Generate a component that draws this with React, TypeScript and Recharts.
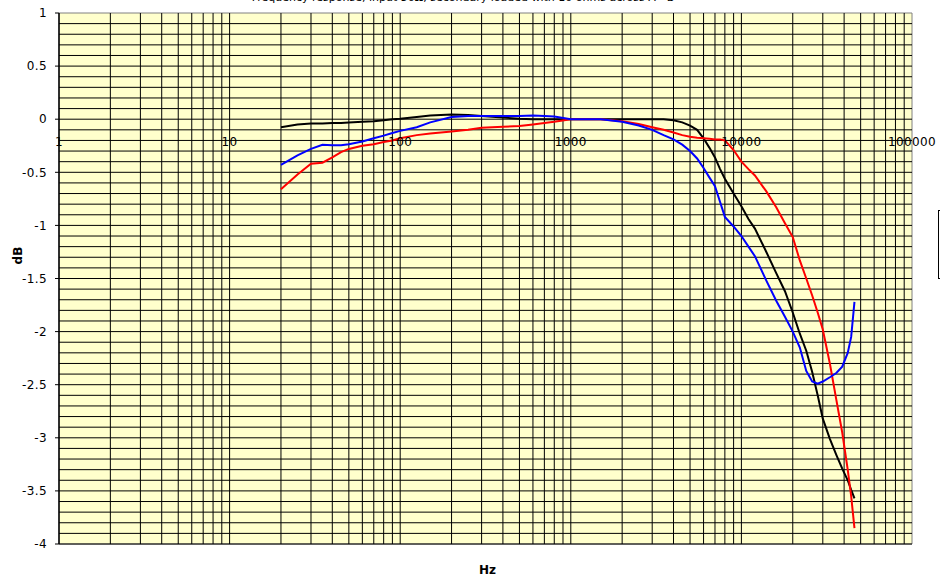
import { LineChart, Line, XAxis, YAxis, ReferenceArea, ReferenceLine, ReferenceDot } from 'recharts';

const freq = [20, 25, 30, 35, 40, 45, 50, 60, 70, 80, 90, 100, 125, 150, 200, 250, 300, 400, 500, 600, 700, 800, 1000, 1500, 2000, 2500, 3000, 3500, 4000, 4500, 5000, 5500, 6000, 6500, 7000, 7500, 8000, 9000, 10000, 11000, 12000, 14000, 16000, 18000, 20000, 22000, 24000, 26000, 28000, 30000, 33000, 36000, 39000, 42000, 44000, 46000];

const blackDb = [-0.075, -0.05, -0.04, -0.04, -0.035, -0.035, -0.03, -0.025, -0.02, -0.01, 0, 0.005, 0.02, 0.035, 0.045, 0.04, 0.03, 0.015, 0.005, 0, 0, 0, 0, 0, 0, 0, 0, 0, -0.01, -0.03, -0.06, -0.1, -0.18, -0.27, -0.36, -0.47, -0.56, -0.7, -0.82, -0.94, -1.03, -1.25, -1.45, -1.62, -1.82, -2.02, -2.18, -2.38, -2.6, -2.82, -3.01, -3.16, -3.29, -3.4, -3.49, -3.57];

const blueDb = [-0.43, -0.34, -0.28, -0.24, -0.245, -0.245, -0.235, -0.21, -0.18, -0.155, -0.13, -0.11, -0.075, -0.03, 0.02, 0.03, 0.03, 0.03, 0.03, 0.035, 0.03, 0.025, 0, 0, -0.025, -0.06, -0.1, -0.15, -0.19, -0.24, -0.3, -0.37, -0.46, -0.55, -0.63, -0.78, -0.92, -1.01, -1.1, -1.2, -1.29, -1.52, -1.71, -1.86, -2.0, -2.15, -2.37, -2.47, -2.49, -2.47, -2.43, -2.39, -2.33, -2.2, -2.05, -1.72];

const redDb = [-0.66, -0.52, -0.42, -0.41, -0.36, -0.31, -0.28, -0.25, -0.235, -0.215, -0.2, -0.18, -0.15, -0.135, -0.115, -0.1, -0.08, -0.07, -0.065, -0.05, -0.035, -0.025, 0, 0, -0.02, -0.045, -0.075, -0.1, -0.125, -0.15, -0.165, -0.175, -0.18, -0.185, -0.19, -0.19, -0.2, -0.29, -0.4, -0.47, -0.53, -0.68, -0.83, -0.98, -1.11, -1.33, -1.5, -1.66, -1.82, -1.98, -2.3, -2.64, -2.95, -3.3, -3.55, -3.85];

const yTicks = [-4, -3.5, -3, -2.5, -2, -1.5, -1, -0.5, 0, 0.5, 1];
const decadeLabels = [1, 10, 100, 1000, 10000, 100000];

const data = freq.map((f, i) => ({ f, black: blackDb[i], blue: blueDb[i], red: redDb[i] }));

// grid positions: every 0.1 dB, and 1..9 per decade
const hGrid: number[] = [];
for (let i = -40; i < 10; i++) hGrid.push(i / 10);
const vGrid: number[] = [];
for (let d = 0; d < 5; d++) for (let k = 1; k <= 9; k++) vGrid.push(k * Math.pow(10, d));

const font = '"DejaVu Sans", Arial, sans-serif';

export default function App() {
  return (
    <div style={{ position: 'absolute', left: 0, top: 0, width: 940, height: 579, overflow: 'hidden', background: '#fff', fontFamily: font }}>
      <div style={{ position: 'absolute', top: -9, left: 0, width: 926, textAlign: 'center', fontSize: 11, color: '#000' }}>
        Frequency response, input 50Ω, secondary loaded with 10 ohms across A - B
      </div>
      <div style={{ position: 'absolute', left: 938, top: 210, width: 60, height: 67, border: '1px solid #000' }} />
      <LineChart width={940} height={579} data={data} margin={{ top: 13, right: 28, left: 0, bottom: 0 }}>
        <XAxis
          dataKey="f"
          type="number"
          scale="log"
          domain={[1, 100000]}
          allowDataOverflow
          tick={false}
          tickLine={false}
          axisLine={false}
          height={35}
          label={({ viewBox }: any) => (
            <text x={viewBox.x + viewBox.width / 2 + 2} y={viewBox.y + 30} textAnchor="middle" fontFamily={font} fontSize={12} fontWeight="bold" fill="#000">
              Hz
            </text>
          )}
        />
        <YAxis
          type="number"
          domain={[-4, 1]}
          ticks={yTicks}
          width={59}
          tickSize={4}
          tickMargin={8}
          interval={0}
          axisLine={{ stroke: '#000' }}
          tickLine={{ stroke: '#000' }}
          tick={{ fill: '#000', fontSize: 12, fontFamily: font, letterSpacing: 0.4 }}
          tickFormatter={(v: number) => String(v)}
          label={({ viewBox }: any) => (
            <text
              x={viewBox.x + 22}
              y={viewBox.y + viewBox.height / 2 - 23}
              textAnchor="middle"
              fontFamily={font}
              fontSize={12}
              fontWeight="bold"
              fill="#000"
              transform={`rotate(-90 ${viewBox.x + 22} ${viewBox.y + viewBox.height / 2 - 23})`}
            >
              dB
            </text>
          )}
        />
        <ReferenceArea x1={1} x2={100000} y1={-4} y2={1} fill="#FFFFCC" fillOpacity={1} stroke="#808080" />
        {hGrid.map((v) => (
          <ReferenceLine key={'h' + v} y={v} stroke="#000" strokeWidth={1} />
        ))}
        {vGrid.map((v) => (
          <ReferenceLine key={'v' + v} x={v} stroke="#000" strokeWidth={1} />
        ))}
        {decadeLabels.map((v) => (
          <ReferenceDot
            key={'l' + v}
            x={v}
            y={0}
            r={0}
            fill="none"
            stroke="none"
            label={{ value: String(v), position: 'bottom', offset: 18, fill: '#000', fontSize: 12, fontFamily: font, letterSpacing: 0.4 }}
          />
        ))}
        <Line type="linear" dataKey="black" stroke="#000000" strokeWidth={2} dot={false} isAnimationActive={false} />
        <Line type="linear" dataKey="red" stroke="#FF0000" strokeWidth={2} dot={false} isAnimationActive={false} />
        <Line type="linear" dataKey="blue" stroke="#0000FF" strokeWidth={2} dot={false} isAnimationActive={false} />
      </LineChart>
    </div>
  );
}
